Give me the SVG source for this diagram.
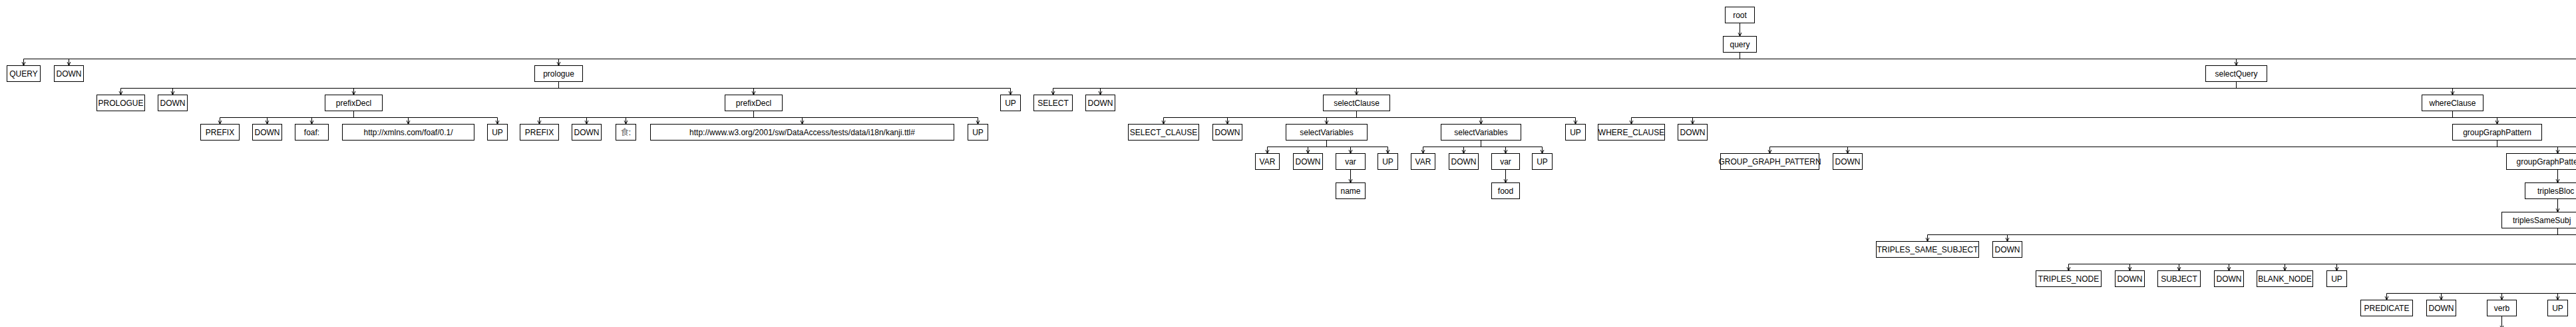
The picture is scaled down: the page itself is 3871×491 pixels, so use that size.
<svg xmlns="http://www.w3.org/2000/svg" width="3871" height="491" viewBox="0 0 3871 491">
<style>
.node rect{fill:#fff;stroke:#000;stroke-width:1}
.node text{font-family:"Liberation Sans",Arial,"Noto Sans CJK SC",sans-serif;font-size:12px;fill:#000;text-anchor:middle}
.node text.cut{text-anchor:start}
#edges line{stroke:#000;stroke-width:1;fill:none}
#edges line.a{marker-end:url(#arr)}
</style>
<defs>
<marker id="arr" markerUnits="userSpaceOnUse" markerWidth="8" markerHeight="8" refX="6" refY="3" orient="auto">
<path d="M0,0.3 L6,3 L0,5.7" fill="none" stroke="#000" stroke-width="1"/>
</marker>
</defs>
<rect x="0" y="0" width="3871" height="491" fill="#fff"/>
<g id="edges">
<line class="a" x1="2614.5" y1="34.5" x2="2614.5" y2="54.5"/>
<line x1="2614.5" y1="78.5" x2="2614.5" y2="88.5"/>
<line x1="35.5" y1="88.5" x2="3871" y2="88.5"/>
<line class="a" x1="35.5" y1="88.5" x2="35.5" y2="98.5"/>
<line class="a" x1="103.5" y1="88.5" x2="103.5" y2="98.5"/>
<line class="a" x1="839.5" y1="88.5" x2="839.5" y2="98.5"/>
<line class="a" x1="3360.5" y1="88.5" x2="3360.5" y2="98.5"/>
<line x1="839.5" y1="122.5" x2="839.5" y2="132.5"/>
<line x1="181.5" y1="132.5" x2="1518.5" y2="132.5"/>
<line class="a" x1="181.5" y1="132.5" x2="181.5" y2="142.5"/>
<line class="a" x1="259.5" y1="132.5" x2="259.5" y2="142.5"/>
<line class="a" x1="531.5" y1="132.5" x2="531.5" y2="142.5"/>
<line class="a" x1="1132.5" y1="132.5" x2="1132.5" y2="142.5"/>
<line class="a" x1="1518.5" y1="132.5" x2="1518.5" y2="142.5"/>
<line x1="3360.5" y1="122.5" x2="3360.5" y2="132.5"/>
<line x1="1582.5" y1="132.5" x2="3871" y2="132.5"/>
<line class="a" x1="1582.5" y1="132.5" x2="1582.5" y2="142.5"/>
<line class="a" x1="1653.5" y1="132.5" x2="1653.5" y2="142.5"/>
<line class="a" x1="2038.5" y1="132.5" x2="2038.5" y2="142.5"/>
<line class="a" x1="3685.5" y1="132.5" x2="3685.5" y2="142.5"/>
<line x1="531.5" y1="166.5" x2="531.5" y2="176.5"/>
<line x1="330.5" y1="176.5" x2="747.5" y2="176.5"/>
<line class="a" x1="330.5" y1="176.5" x2="330.5" y2="186.5"/>
<line class="a" x1="401.5" y1="176.5" x2="401.5" y2="186.5"/>
<line class="a" x1="468.5" y1="176.5" x2="468.5" y2="186.5"/>
<line class="a" x1="613.5" y1="176.5" x2="613.5" y2="186.5"/>
<line class="a" x1="747.5" y1="176.5" x2="747.5" y2="186.5"/>
<line x1="1132.5" y1="166.5" x2="1132.5" y2="176.5"/>
<line x1="810.5" y1="176.5" x2="1469.5" y2="176.5"/>
<line class="a" x1="810.5" y1="176.5" x2="810.5" y2="186.5"/>
<line class="a" x1="881.5" y1="176.5" x2="881.5" y2="186.5"/>
<line class="a" x1="940.5" y1="176.5" x2="940.5" y2="186.5"/>
<line class="a" x1="1205.5" y1="176.5" x2="1205.5" y2="186.5"/>
<line class="a" x1="1469.5" y1="176.5" x2="1469.5" y2="186.5"/>
<line x1="2038.5" y1="166.5" x2="2038.5" y2="176.5"/>
<line x1="1748.5" y1="176.5" x2="2367.5" y2="176.5"/>
<line class="a" x1="1748.5" y1="176.5" x2="1748.5" y2="186.5"/>
<line class="a" x1="1844.5" y1="176.5" x2="1844.5" y2="186.5"/>
<line class="a" x1="1993.5" y1="176.5" x2="1993.5" y2="186.5"/>
<line class="a" x1="2225.5" y1="176.5" x2="2225.5" y2="186.5"/>
<line class="a" x1="2367.5" y1="176.5" x2="2367.5" y2="186.5"/>
<line x1="3685.5" y1="166.5" x2="3685.5" y2="176.5"/>
<line x1="2451.5" y1="176.5" x2="3871" y2="176.5"/>
<line class="a" x1="2451.5" y1="176.5" x2="2451.5" y2="186.5"/>
<line class="a" x1="2543.5" y1="176.5" x2="2543.5" y2="186.5"/>
<line class="a" x1="3752.5" y1="176.5" x2="3752.5" y2="186.5"/>
<line x1="1993.5" y1="210.5" x2="1993.5" y2="220.5"/>
<line x1="1904.5" y1="220.5" x2="2085.5" y2="220.5"/>
<line class="a" x1="1904.5" y1="220.5" x2="1904.5" y2="230.5"/>
<line class="a" x1="1965.5" y1="220.5" x2="1965.5" y2="230.5"/>
<line class="a" x1="2029.5" y1="220.5" x2="2029.5" y2="230.5"/>
<line class="a" x1="2085.5" y1="220.5" x2="2085.5" y2="230.5"/>
<line x1="2225.5" y1="210.5" x2="2225.5" y2="220.5"/>
<line x1="2138.5" y1="220.5" x2="2317.5" y2="220.5"/>
<line class="a" x1="2138.5" y1="220.5" x2="2138.5" y2="230.5"/>
<line class="a" x1="2199.5" y1="220.5" x2="2199.5" y2="230.5"/>
<line class="a" x1="2262.5" y1="220.5" x2="2262.5" y2="230.5"/>
<line class="a" x1="2317.5" y1="220.5" x2="2317.5" y2="230.5"/>
<line x1="3752.5" y1="210.5" x2="3752.5" y2="220.5"/>
<line x1="2659.5" y1="220.5" x2="3871" y2="220.5"/>
<line class="a" x1="2659.5" y1="220.5" x2="2659.5" y2="230.5"/>
<line class="a" x1="2776.5" y1="220.5" x2="2776.5" y2="230.5"/>
<line class="a" x1="3843.5" y1="220.5" x2="3843.5" y2="230.5"/>
<line class="a" x1="2029.5" y1="254.5" x2="2029.5" y2="274.5"/>
<line class="a" x1="2262.5" y1="254.5" x2="2262.5" y2="274.5"/>
<line class="a" x1="3843.5" y1="254.5" x2="3843.5" y2="274.5"/>
<line class="a" x1="3843.5" y1="298.5" x2="3843.5" y2="318.5"/>
<line x1="3843.5" y1="342.5" x2="3843.5" y2="352.5"/>
<line x1="2896.5" y1="352.5" x2="3871" y2="352.5"/>
<line class="a" x1="2896.5" y1="352.5" x2="2896.5" y2="362.5"/>
<line class="a" x1="3016.5" y1="352.5" x2="3016.5" y2="362.5"/>
<line x1="3108.5" y1="396.5" x2="3871" y2="396.5"/>
<line class="a" x1="3108.5" y1="396.5" x2="3108.5" y2="406.5"/>
<line class="a" x1="3200.5" y1="396.5" x2="3200.5" y2="406.5"/>
<line class="a" x1="3274.5" y1="396.5" x2="3274.5" y2="406.5"/>
<line class="a" x1="3349.5" y1="396.5" x2="3349.5" y2="406.5"/>
<line class="a" x1="3433.5" y1="396.5" x2="3433.5" y2="406.5"/>
<line class="a" x1="3511.5" y1="396.5" x2="3511.5" y2="406.5"/>
<line x1="3586.5" y1="440.5" x2="3871" y2="440.5"/>
<line class="a" x1="3586.5" y1="440.5" x2="3586.5" y2="450.5"/>
<line class="a" x1="3668.5" y1="440.5" x2="3668.5" y2="450.5"/>
<line class="a" x1="3759.5" y1="440.5" x2="3759.5" y2="450.5"/>
<line class="a" x1="3843.5" y1="440.5" x2="3843.5" y2="450.5"/>
<line class="a" x1="3759.5" y1="474.5" x2="3759.5" y2="494.5"/>
</g>
<g id="n_root" class="node"><rect x="2592.5" y="10.5" width="44" height="24"/><text x="2614.5" y="27">root</text></g>
<g id="n_query" class="node"><rect x="2589.5" y="54.5" width="50" height="24"/><text x="2614.5" y="71">query</text></g>
<g id="n_QUERY" class="node"><rect x="10.5" y="98.5" width="50" height="24"/><text x="35.5" y="115">QUERY</text></g>
<g id="n_DOWN_1" class="node"><rect x="81.5" y="98.5" width="44" height="24"/><text x="103.5" y="115">DOWN</text></g>
<g id="n_prologue" class="node"><rect x="803.5" y="98.5" width="72" height="24"/><text x="839.5" y="115">prologue</text></g>
<g id="n_selectQuery" class="node"><rect x="3314.5" y="98.5" width="92" height="24"/><text x="3360.5" y="115">selectQuery</text></g>
<g id="n_PROLOGUE" class="node"><rect x="145.5" y="142.5" width="72" height="24"/><text x="181.5" y="159">PROLOGUE</text></g>
<g id="n_DOWN_2" class="node"><rect x="237.5" y="142.5" width="44" height="24"/><text x="259.5" y="159">DOWN</text></g>
<g id="n_prefixDecl_1" class="node"><rect x="488.5" y="142.5" width="86" height="24"/><text x="531.5" y="159">prefixDecl</text></g>
<g id="n_prefixDecl_2" class="node"><rect x="1089.5" y="142.5" width="86" height="24"/><text x="1132.5" y="159">prefixDecl</text></g>
<g id="n_UP_1" class="node"><rect x="1503.5" y="142.5" width="30" height="24"/><text x="1518.5" y="159">UP</text></g>
<g id="n_SELECT" class="node"><rect x="1553.5" y="142.5" width="58" height="24"/><text x="1582.5" y="159">SELECT</text></g>
<g id="n_DOWN_3" class="node"><rect x="1631.5" y="142.5" width="44" height="24"/><text x="1653.5" y="159">DOWN</text></g>
<g id="n_selectClause" class="node"><rect x="1988.5" y="142.5" width="100" height="24"/><text x="2038.5" y="159">selectClause</text></g>
<g id="n_whereClause" class="node"><rect x="3639.5" y="142.5" width="92" height="24"/><text x="3685.5" y="159">whereClause</text></g>
<g id="n_PREFIX_1" class="node"><rect x="301.5" y="186.5" width="58" height="24"/><text x="330.5" y="203">PREFIX</text></g>
<g id="n_DOWN_4" class="node"><rect x="379.5" y="186.5" width="44" height="24"/><text x="401.5" y="203">DOWN</text></g>
<g id="n_foaf" class="node"><rect x="443.5" y="186.5" width="50" height="24"/><text x="468.5" y="203">foaf:</text></g>
<g id="n_url_1" class="node"><rect x="514.5" y="186.5" width="198" height="24"/><text x="613.5" y="203">http://xmlns.com/foaf/0.1/</text></g>
<g id="n_UP_2" class="node"><rect x="732.5" y="186.5" width="30" height="24"/><text x="747.5" y="203">UP</text></g>
<g id="n_PREFIX_2" class="node"><rect x="781.5" y="186.5" width="58" height="24"/><text x="810.5" y="203">PREFIX</text></g>
<g id="n_DOWN_5" class="node"><rect x="859.5" y="186.5" width="44" height="24"/><text x="881.5" y="203">DOWN</text></g>
<g id="n_shoku" class="node"><rect x="925.5" y="186.5" width="30" height="24"/><text x="940.5" y="203"><tspan fill="#666">食</tspan>:</text></g>
<g id="n_url_2" class="node"><rect x="977.5" y="186.5" width="456" height="24"/><text x="1205.5" y="203">http://www.w3.org/2001/sw/DataAccess/tests/data/i18n/kanji.ttl#</text></g>
<g id="n_UP_3" class="node"><rect x="1454.5" y="186.5" width="30" height="24"/><text x="1469.5" y="203">UP</text></g>
<g id="n_SELECT_CLAUSE" class="node"><rect x="1695.5" y="186.5" width="106" height="24"/><text x="1748.5" y="203">SELECT_CLAUSE</text></g>
<g id="n_DOWN_6" class="node"><rect x="1822.5" y="186.5" width="44" height="24"/><text x="1844.5" y="203">DOWN</text></g>
<g id="n_selectVariables_1" class="node"><rect x="1932.5" y="186.5" width="122" height="24"/><text x="1993.5" y="203">selectVariables</text></g>
<g id="n_selectVariables_2" class="node"><rect x="2165.5" y="186.5" width="120" height="24"/><text x="2225.5" y="203">selectVariables</text></g>
<g id="n_UP_4" class="node"><rect x="2352.5" y="186.5" width="30" height="24"/><text x="2367.5" y="203">UP</text></g>
<g id="n_WHERE_CLAUSE" class="node"><rect x="2401.5" y="186.5" width="100" height="24"/><text x="2451.5" y="203">WHERE_CLAUSE</text></g>
<g id="n_DOWN_7" class="node"><rect x="2521.5" y="186.5" width="44" height="24"/><text x="2543.5" y="203">DOWN</text></g>
<g id="n_groupGraphPattern" class="node"><rect x="3685.5" y="186.5" width="134" height="24"/><text x="3752.5" y="203">groupGraphPattern</text></g>
<g id="n_VAR_1" class="node"><rect x="1886.5" y="230.5" width="36" height="24"/><text x="1904.5" y="247">VAR</text></g>
<g id="n_DOWN_8" class="node"><rect x="1943.5" y="230.5" width="44" height="24"/><text x="1965.5" y="247">DOWN</text></g>
<g id="n_var_1" class="node"><rect x="2007.5" y="230.5" width="44" height="24"/><text x="2029.5" y="247">var</text></g>
<g id="n_UP_5" class="node"><rect x="2070.5" y="230.5" width="30" height="24"/><text x="2085.5" y="247">UP</text></g>
<g id="n_VAR_2" class="node"><rect x="2120.5" y="230.5" width="36" height="24"/><text x="2138.5" y="247">VAR</text></g>
<g id="n_DOWN_9" class="node"><rect x="2177.5" y="230.5" width="44" height="24"/><text x="2199.5" y="247">DOWN</text></g>
<g id="n_var_2" class="node"><rect x="2241.5" y="230.5" width="42" height="24"/><text x="2262.5" y="247">var</text></g>
<g id="n_UP_6" class="node"><rect x="2302.5" y="230.5" width="30" height="24"/><text x="2317.5" y="247">UP</text></g>
<g id="n_GROUP_GRAPH_PATTERN" class="node"><rect x="2585.5" y="230.5" width="148" height="24"/><text x="2659.5" y="247">GROUP_GRAPH_PATTERN</text></g>
<g id="n_DOWN_10" class="node"><rect x="2754.5" y="230.5" width="44" height="24"/><text x="2776.5" y="247">DOWN</text></g>
<g id="n_groupGraphPatternSub" class="node"><rect x="3766.5" y="230.5" width="154" height="24"/><text class="cut" x="3781.5" y="247">groupGraphPatte</text></g>
<g id="n_name" class="node"><rect x="2007.5" y="274.5" width="44" height="24"/><text x="2029.5" y="291">name</text></g>
<g id="n_food" class="node"><rect x="2241.5" y="274.5" width="42" height="24"/><text x="2262.5" y="291">food</text></g>
<g id="n_triplesBlock" class="node"><rect x="3794.5" y="274.5" width="98" height="24"/><text class="cut" x="3813" y="291">triplesBloc</text></g>
<g id="n_triplesSameSubjectPath" class="node"><rect x="3759.5" y="318.5" width="168" height="24"/><text class="cut" x="3776" y="335">triplesSameSubj</text></g>
<g id="n_TRIPLES_SAME_SUBJECT" class="node"><rect x="2819.5" y="362.5" width="154" height="24"/><text x="2896.5" y="379">TRIPLES_SAME_SUBJECT</text></g>
<g id="n_DOWN_11" class="node"><rect x="2994.5" y="362.5" width="44" height="24"/><text x="3016.5" y="379">DOWN</text></g>
<g id="n_TRIPLES_NODE" class="node"><rect x="3059.5" y="406.5" width="98" height="24"/><text x="3108.5" y="423">TRIPLES_NODE</text></g>
<g id="n_DOWN_12" class="node"><rect x="3178.5" y="406.5" width="44" height="24"/><text x="3200.5" y="423">DOWN</text></g>
<g id="n_SUBJECT" class="node"><rect x="3242.5" y="406.5" width="64" height="24"/><text x="3274.5" y="423">SUBJECT</text></g>
<g id="n_DOWN_13" class="node"><rect x="3327.5" y="406.5" width="44" height="24"/><text x="3349.5" y="423">DOWN</text></g>
<g id="n_BLANK_NODE" class="node"><rect x="3391.5" y="406.5" width="84" height="24"/><text x="3433.5" y="423">BLANK_NODE</text></g>
<g id="n_UP_7" class="node"><rect x="3496.5" y="406.5" width="30" height="24"/><text x="3511.5" y="423">UP</text></g>
<g id="n_PREDICATE" class="node"><rect x="3547.5" y="450.5" width="78" height="24"/><text x="3586.5" y="467">PREDICATE</text></g>
<g id="n_DOWN_14" class="node"><rect x="3646.5" y="450.5" width="44" height="24"/><text x="3668.5" y="467">DOWN</text></g>
<g id="n_verb" class="node"><rect x="3737.5" y="450.5" width="44" height="24"/><text x="3759.5" y="467">verb</text></g>
<g id="n_UP_8" class="node"><rect x="3828.5" y="450.5" width="30" height="24"/><text x="3843.5" y="467">UP</text></g>
</svg>
